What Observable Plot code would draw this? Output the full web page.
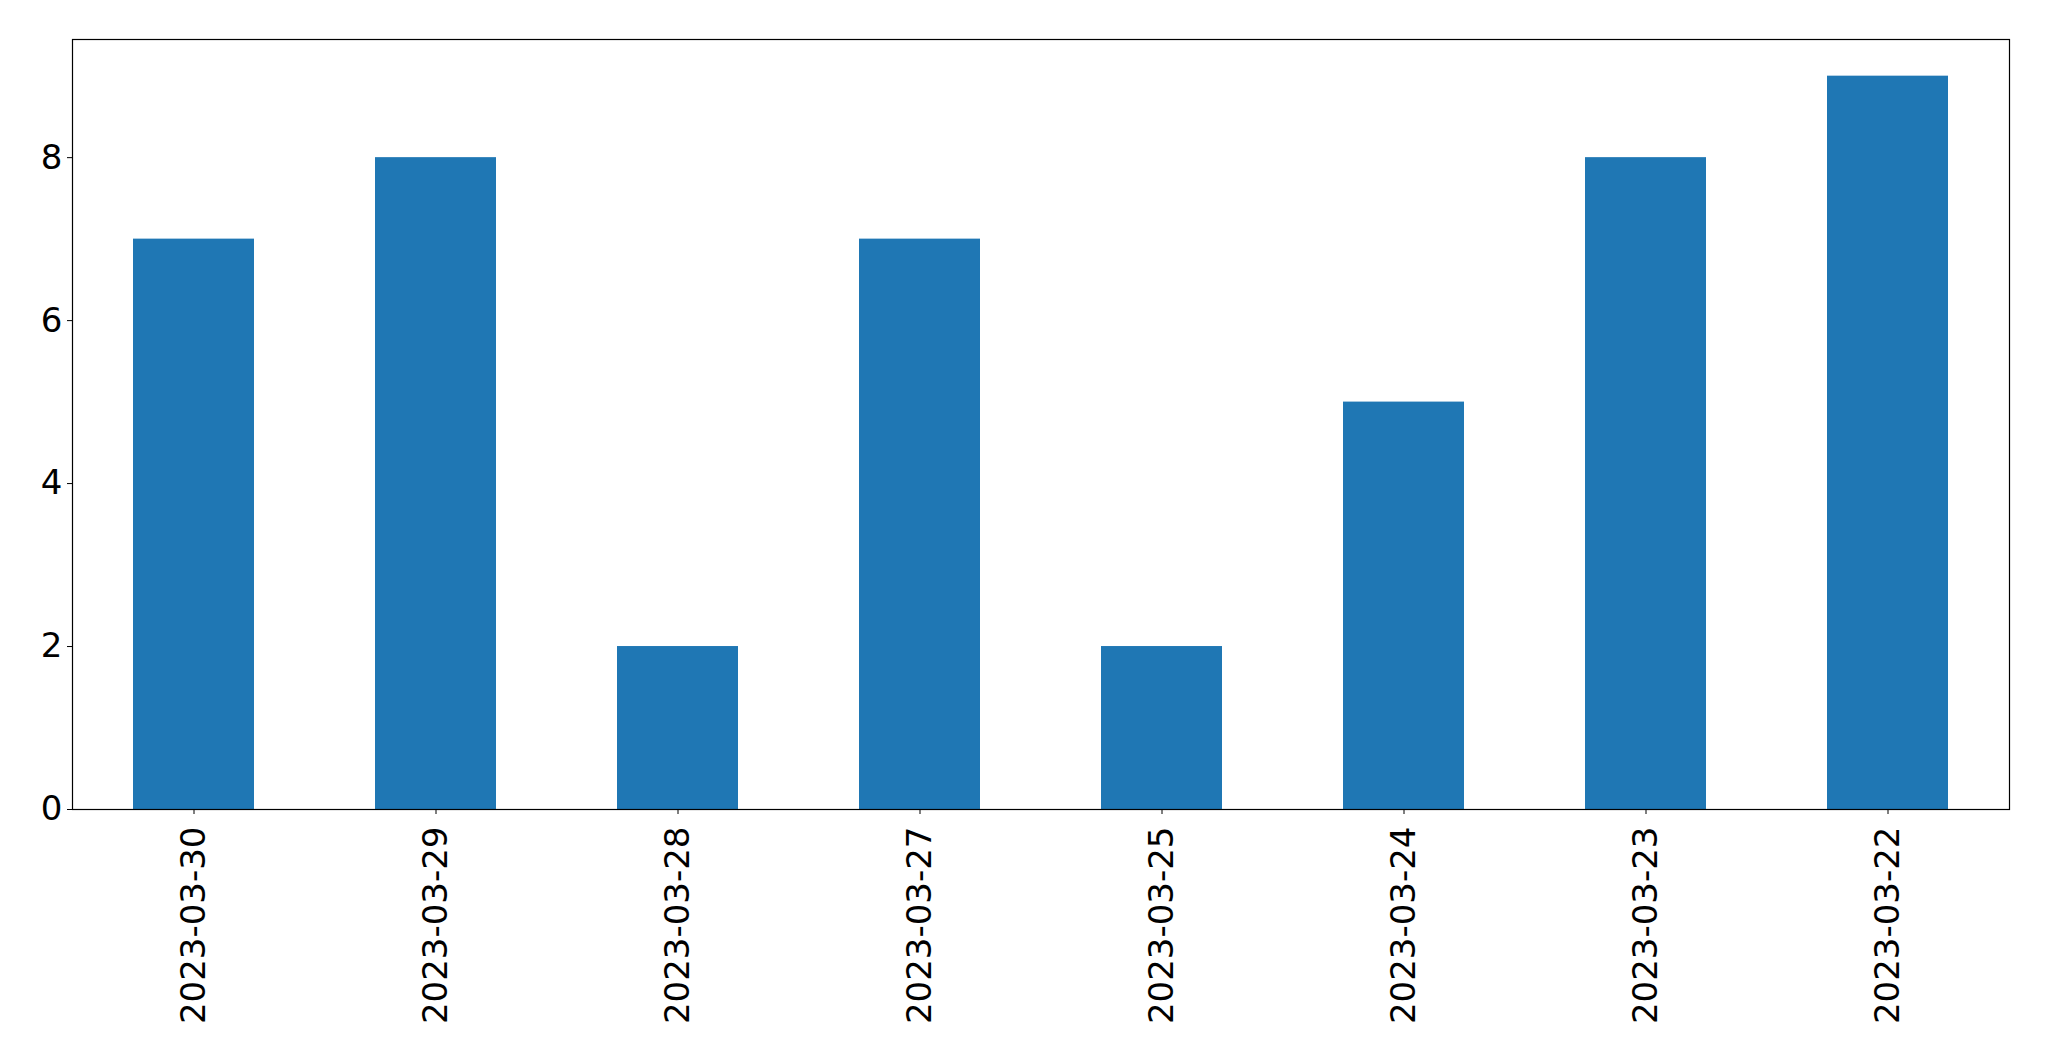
<!DOCTYPE html>
<html>
<head>
<meta charset="utf-8">
<script src="https://cdn.jsdelivr.net/npm/d3@7"></script>
<script src="https://cdn.jsdelivr.net/npm/@observablehq/plot@0.6"></script>
<style>
  html, body { margin: 0; padding: 0; background: #fff; }
  #chart svg { display: block; }
</style>
</head>
<body>
<div id="chart"></div>
<script>
const dates = ["2023-03-30","2023-03-29","2023-03-28","2023-03-27","2023-03-25","2023-03-24","2023-03-23","2023-03-22"];
const values = [7, 8, 2, 7, 2, 5, 8, 9];
const yTicks = [0, 2, 4, 6, 8];

const data = dates.map((d, i) => ({date: d, value: values[i]}));

const chart = Plot.plot({
  width: 2049,
  height: 1061,
  marginLeft: 72,
  marginRight: 40,
  marginTop: 39,
  marginBottom: 252,
  style: {fontFamily: "DejaVu Sans", background: "#fff", color: "#000"},
  x: {domain: dates, paddingInner: 0.5, paddingOuter: 0.25},
  y: {domain: [0, 9.45]},
  marks: [
    Plot.barY(data, {x: "date", y: "value", fill: "#1f77b4"}),
    Plot.frame({stroke: "#000", strokeWidth: 1.2}),
    Plot.axisX({tickRotate: -90, fontSize: 34, tickSize: 5, tickPadding: 12, label: null, stroke: "#000"}),
    Plot.axisY({ticks: yTicks, fontSize: 34, tickSize: 5, tickPadding: 5, label: null, stroke: "#000"})
  ]
});
document.getElementById("chart").appendChild(chart);
</script>
</body>
</html>
